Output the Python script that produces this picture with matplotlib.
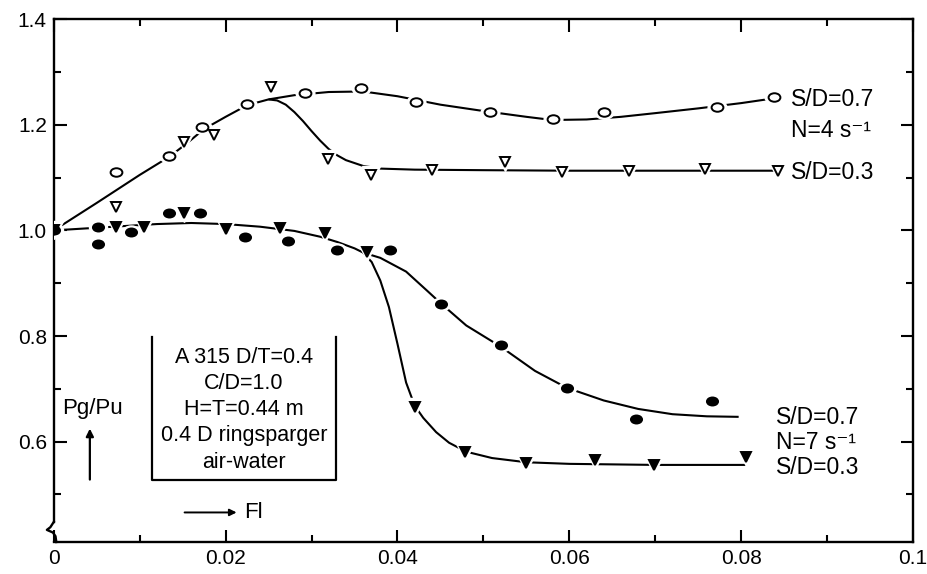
"""
plot.py — Pg/Pu versus flow number Fl for an A315 impeller (scanned figure redraw).

Two stirrer speeds (N = 4 and 7 s-1), two sparger clearances (S/D = 0.7, 0.3).
Symbols are measured points, lines are the hand-drawn trend curves.
"""

import matplotlib
matplotlib.use("Agg")
import matplotlib.pyplot as plt
from matplotlib.lines import Line2D
from matplotlib.markers import MarkerStyle
from matplotlib.path import Path

plt.rcParams["font.family"] = ["Liberation Sans", "DejaVu Sans"]

# ── Data ──────────────────────────────────────────────────────────────────────

# N = 4 s-1, S/D = 0.7 (open circles)
n4_sd07_x = [0.0073, 0.0134, 0.0173, 0.0225, 0.0292, 0.0358, 0.0422, 0.0508,
             0.0581, 0.0640, 0.0772, 0.0838]
n4_sd07_y = [1.111, 1.140, 1.195, 1.239, 1.261, 1.269, 1.243, 1.224,
             1.210, 1.224, 1.233, 1.252]

# N = 4 s-1, S/D = 0.3 (open triangles)
n4_sd03_x = [0.0073, 0.0152, 0.0187, 0.0253, 0.0319, 0.0369, 0.0440, 0.0525,
             0.0591, 0.0669, 0.0758, 0.0843]
n4_sd03_y = [1.045, 1.167, 1.180, 1.271, 1.136, 1.104, 1.115, 1.129,
             1.110, 1.113, 1.117, 1.113]

# N = 7 s-1, S/D = 0.7 (filled circles)
n7_sd07_x = [0.0, 0.0051, 0.0051, 0.0090, 0.0134, 0.0170, 0.0222, 0.0273,
             0.0330, 0.0391, 0.0451, 0.0520, 0.0597, 0.0677, 0.0766]
n7_sd07_y = [1.000, 1.006, 0.974, 0.997, 1.033, 1.033, 0.988, 0.979,
             0.962, 0.962, 0.861, 0.783, 0.702, 0.643, 0.677]

# N = 7 s-1, S/D = 0.3 (filled triangles)
n7_sd03_x = [0.0, 0.0073, 0.0105, 0.0152, 0.0201, 0.0263, 0.0316, 0.0364,
             0.0420, 0.0479, 0.0550, 0.0630, 0.0698, 0.0806]
n7_sd03_y = [1.000, 1.006, 1.006, 1.033, 1.003, 1.005, 0.995, 0.960,
             0.665, 0.580, 0.559, 0.565, 0.556, 0.571]

# Trend curves, traced point by point
curve_n4_sd07_x = [0.0, 0.005, 0.010, 0.0135, 0.0155, 0.0175, 0.020, 0.0225,
                   0.025, 0.028, 0.032, 0.036, 0.040, 0.045, 0.050, 0.055,
                   0.058, 0.062, 0.066, 0.070, 0.075, 0.080, 0.0838]
curve_n4_sd07_y = [1.000, 1.052, 1.105, 1.140, 1.165, 1.192, 1.215, 1.237,
                   1.248, 1.256, 1.262, 1.263, 1.254, 1.238, 1.226, 1.215,
                   1.209, 1.210, 1.215, 1.222, 1.231, 1.241, 1.250]

curve_n4_sd03_x = [0.025, 0.026, 0.027, 0.028, 0.029, 0.030, 0.031, 0.032,
                   0.033, 0.034, 0.036, 0.038, 0.042, 0.050, 0.060, 0.070, 0.0843]
curve_n4_sd03_y = [1.248, 1.246, 1.238, 1.224, 1.207, 1.188, 1.170, 1.154,
                   1.142, 1.133, 1.122, 1.117, 1.115, 1.114, 1.113, 1.113, 1.113]

curve_n7_common_x = [0.0, 0.004, 0.008, 0.012, 0.016, 0.020, 0.024, 0.028,
                     0.031, 0.033, 0.035, 0.036]
curve_n7_common_y = [1.000, 1.004, 1.008, 1.012, 1.014, 1.012, 1.007, 0.999,
                     0.988, 0.978, 0.966, 0.958]

curve_n7_sd03_x = [0.036, 0.037, 0.038, 0.039, 0.040, 0.041, 0.042, 0.043,
                   0.0445, 0.046, 0.048, 0.051, 0.055, 0.060, 0.070, 0.0806]
curve_n7_sd03_y = [0.958, 0.940, 0.905, 0.855, 0.785, 0.712, 0.668, 0.645,
                   0.618, 0.598, 0.581, 0.569, 0.561, 0.558, 0.556, 0.556]

curve_n7_sd07_x = [0.036, 0.038, 0.041, 0.0435, 0.0451, 0.048, 0.052, 0.056,
                   0.0597, 0.064, 0.068, 0.072, 0.076, 0.0797]
curve_n7_sd07_y = [0.958, 0.948, 0.922, 0.885, 0.861, 0.820, 0.780, 0.734,
                   0.702, 0.678, 0.662, 0.652, 0.648, 0.647]

x_ticks = [0.0, 0.02, 0.04, 0.06, 0.08, 0.1]
x_tick_labels = ["0", "0.02", "0.04", "0.06", "0.08", "0.1"]
y_ticks = [0.6, 0.8, 1.0, 1.2, 1.4]
y_tick_labels = ["0.6", "0.8", "1.0", "1.2", "1.4"]

box_lines = ["A 315 D/T=0.4", "C/D=1.0", "H=T=0.44 m",
             "0.4 D ringsparger", "air-water"]

# ── Figure ────────────────────────────────────────────────────────────────────

fig = plt.figure(figsize=(9.27, 5.74), dpi=100)
ax = fig.add_axes([0.058, 0.0557, 0.927, 0.911])
ax.set_xlim(0, 0.1)
ax.set_ylim(0.41, 1.4)

# slightly flattened circle, like the scanned symbols
unit = Path.unit_circle()
ellipse = MarkerStyle(Path(unit.vertices * [1.0, 0.72], unit.codes))

LW = 1.5
for cx, cy in [(curve_n4_sd07_x, curve_n4_sd07_y),
               (curve_n4_sd03_x, curve_n4_sd03_y),
               (curve_n7_common_x, curve_n7_common_y),
               (curve_n7_sd03_x, curve_n7_sd03_y),
               (curve_n7_sd07_x, curve_n7_sd07_y)]:
    ax.plot(cx, cy, color="black", lw=LW, zorder=2, solid_capstyle="butt")


def points(x, y, marker, ms, filled):
    # white halo first, so the curve breaks around each symbol
    ax.plot(x, y, ls="none", marker=marker, ms=ms + 5, mfc="white",
            mec="white", zorder=3)
    ax.plot(x, y, ls="none", marker=marker, ms=ms,
            mfc="black" if filled else "white", mec="black", mew=1.4, zorder=4)


points(n4_sd07_x, n4_sd07_y, ellipse, 8.5, False)
points(n4_sd03_x, n4_sd03_y, "v", 7.5, False)
points(n7_sd07_x, n7_sd07_y, ellipse, 8, True)
points(n7_sd03_x, n7_sd03_y, "v", 7.5, True)

# ── Axes frame, ticks, broken y-axis ─────────────────────────────────────────

for s in ax.spines.values():
    s.set_linewidth(1.7)
ax.spines["left"].set_bounds(0.448, 1.4)

ax.set_xticks(x_ticks)
ax.set_xticklabels(x_tick_labels)
ax.set_xticks([0.01, 0.03, 0.05, 0.07, 0.09], minor=True)
ax.set_yticks(y_ticks)
ax.set_yticklabels(y_tick_labels)
ax.set_yticks([0.5, 0.7, 0.9, 1.1, 1.3], minor=True)
ax.tick_params(which="both", direction="in", top=True, right=True,
               width=1.5, labelsize=15, pad=5)
ax.tick_params(which="major", length=9)
ax.tick_params(which="minor", length=5)

zig_x = [0.0, -0.0004, -0.0008, -0.0001, 0.0002, 0.0003]
zig_y = [0.448, 0.438, 0.433, 0.428, 0.421, 0.41]
ax.add_line(Line2D(zig_x, zig_y, color="black", lw=1.7, clip_on=False))

# ── Annotations ───────────────────────────────────────────────────────────────

lab = dict(fontsize=16.5, va="center", ha="left")
ax.text(0.0858, 1.248, "S/D=0.7", **lab)
ax.text(0.0858, 1.190, "N=4 s⁻¹", **lab)
ax.text(0.0858, 1.110, "S/D=0.3", **lab)
ax.text(0.0841, 0.646, "S/D=0.7", **lab)
ax.text(0.0841, 0.599, "N=7 s⁻¹", **lab)
ax.text(0.0841, 0.551, "S/D=0.3", **lab)

# conditions box (open at the top, as in the original)
bx0, bx1, by0, by1 = 0.0114, 0.0329, 0.527, 0.798
ax.plot([bx0, bx0, bx1, bx1], [by1, by0, by0, by1], color="black", lw=1.6)
for i, line in enumerate(box_lines):
    ax.text((bx0 + bx1) / 2, 0.760 - i * 0.0497, line, fontsize=15.5,
            ha="center", va="center")

ax.text(0.0045, 0.663, "Pg/Pu", fontsize=16, ha="center", va="center")
ax.annotate("", xy=(0.0042, 0.630), xytext=(0.0042, 0.523),
            arrowprops=dict(arrowstyle="-|>", lw=1.6, color="black",
                            mutation_scale=11))
ax.annotate("", xy=(0.0216, 0.466), xytext=(0.0149, 0.466),
            arrowprops=dict(arrowstyle="-|>", lw=1.4, color="black",
                            mutation_scale=10))
ax.text(0.0221, 0.466, "Fl", fontsize=16, ha="left", va="center")

fig.savefig("out.png", dpi=100)
